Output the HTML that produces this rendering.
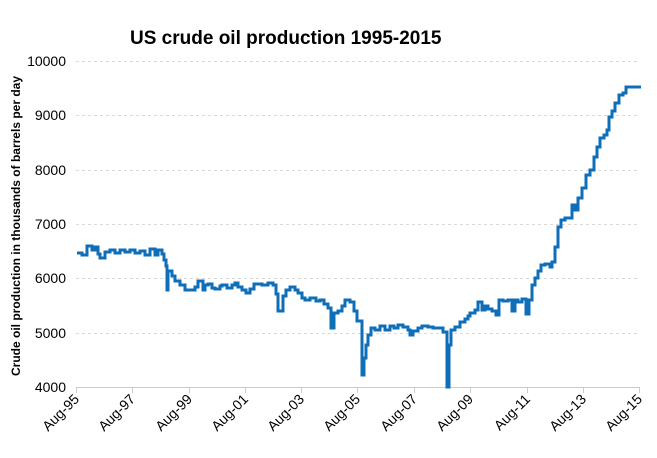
<!DOCTYPE html>
<html><head><style>body{margin:0;background:#fff}</style></head><body>
<svg width="657" height="453" xmlns="http://www.w3.org/2000/svg" font-family="Liberation Sans, sans-serif">
<rect width="657" height="453" fill="#fff"/>
<text x="130" y="44" font-size="19" font-weight="bold">US crude oil production 1995-2015</text>
<g stroke="#d9d9d9" stroke-dasharray="3,3" stroke-width="1">
<line x1="76" x2="640" y1="61.5" y2="61.5"/><line x1="76" x2="640" y1="115.5" y2="115.5"/>
<line x1="76" x2="640" y1="170.5" y2="170.5"/><line x1="76" x2="640" y1="224.5" y2="224.5"/>
<line x1="76" x2="640" y1="278.5" y2="278.5"/><line x1="76" x2="640" y1="333.5" y2="333.5"/>
</g>
<line x1="76" x2="640" y1="387.5" y2="387.5" stroke="#ccc"/>
<g stroke="#ccc"><line x1="76.5" x2="76.5" y1="387" y2="393"/><line x1="132.5" x2="132.5" y1="387" y2="393"/><line x1="189.5" x2="189.5" y1="387" y2="393"/><line x1="245.5" x2="245.5" y1="387" y2="393"/><line x1="301.5" x2="301.5" y1="387" y2="393"/><line x1="357.5" x2="357.5" y1="387" y2="393"/><line x1="414.5" x2="414.5" y1="387" y2="393"/><line x1="470.5" x2="470.5" y1="387" y2="393"/><line x1="527.5" x2="527.5" y1="387" y2="393"/><line x1="583.5" x2="583.5" y1="387" y2="393"/><line x1="639.5" x2="639.5" y1="387" y2="393"/></g>
<g font-size="14" text-anchor="end" fill="#000">
<text x="66" y="66">10000</text><text x="66" y="120">9000</text><text x="66" y="175">8000</text><text x="66" y="229">7000</text><text x="66" y="283">6000</text><text x="66" y="338">5000</text><text x="66" y="392">4000</text>
</g>
<g font-size="14" text-anchor="end">
<text transform="translate(80,400) rotate(-45)">Aug-95</text>
<text transform="translate(136,400) rotate(-45)">Aug-97</text>
<text transform="translate(193,400) rotate(-45)">Aug-99</text>
<text transform="translate(249,400) rotate(-45)">Aug-01</text>
<text transform="translate(305,400) rotate(-45)">Aug-03</text>
<text transform="translate(361,400) rotate(-45)">Aug-05</text>
<text transform="translate(418,400) rotate(-45)">Aug-07</text>
<text transform="translate(474,400) rotate(-45)">Aug-09</text>
<text transform="translate(531,400) rotate(-45)">Aug-11</text>
<text transform="translate(587,400) rotate(-45)">Aug-13</text>
<text transform="translate(643,400) rotate(-45)">Aug-15</text>
</g>
<text transform="translate(20,226) rotate(-90)" font-size="12" font-weight="bold" text-anchor="middle">Crude oil production in thousands of barrels per day</text>
<polyline fill="none" stroke="#0f6eb8" stroke-width="3" stroke-linejoin="miter" points="
77,253 82,253 82,255 87,255 87,246 92,246 92,250 95,250 95,247 98,247 98,254 100,254 100,258 105,258 105,252 110,252 110,250 115,250 115,253 120,253 120,250 125,250 125,252 130,252 130,250 135,250 135,253 140,253 140,251 145,251 145,255 150,255 150,249 155,249 155,255 158,255 158,250 162,250 162,254 164,254 164,260 166,260 166,266 167,266 167,270 167,290 168,290 168,271 172,271 172,276 175,276 175,281 180,281 180,285 185,285 185,290 195,290 195,287 198,287 198,281 203,281 203,290 205,290 205,285 208,285 208,284 212,284 212,288 215,288 215,289 220,289 220,286 222,286 222,285 227,285 227,288 232,288 232,285 235,285 235,283 238,283 238,287 242,287 242,290 246,290 246,293 250,293 250,289 254,289 254,284 262,284 262,285 268,285 268,283 273,283 273,285 276,285 276,294 278,294 278,311 283,311 283,296 286,296 286,290 290,290 290,287 295,287 295,290 298,290 298,293 302,293 302,298 305,298 305,300 310,300 310,298 316,298 316,301 320,301 320,300 324,300 324,304 328,304 328,308 331,308 331,328 334,328 334,313 338,313 338,311 342,311 342,306 345,306 345,300 350,300 350,302 354,302 354,311 357,311 357,321 362,321 362,375 364,375 364,358 366,358 366,345 368,345 368,335 371,335 371,328 375,328 375,330 380,330 380,326 385,326 385,330 390,330 390,326 394,326 394,328 398,328 398,325 403,325 403,327 408,327 408,330 410,330 410,335 413,335 413,331 418,331 418,328 422,328 422,326 428,326 428,327 433,327 433,328 443,328 443,332 447,332 447,387 449,387 449,345 451,345 451,330 455,330 455,327 460,327 460,322 465,322 465,319 468,319 468,316 470,316 470,313 475,313 475,310 478,310 478,302 482,302 482,310 485,310 485,306 488,306 488,309 492,309 492,311 496,311 496,315 499,315 499,300 503,300 503,301 508,301 508,300 512,300 512,311 515,311 515,300 518,300 518,302 522,302 522,299 526,299 526,314 529,314 529,300 532,300 532,285 535,285 535,278 538,278 538,271 541,271 541,265 545,265 545,264 550,264 550,267 552,267 552,262 555,262 555,247 558,247 558,227 561,227 561,220 565,220 565,218 572,218 572,205 575,205 575,210 578,210 578,198 582,198 582,188 586,188 586,175 590,175 590,170 594,170 594,157 597,157 597,147 600,147 600,138 604,138 604,135 607,135 607,130 609,130 609,117 612,117 612,111 615,111 615,103 619,103 619,95 623,95 623,93 626,93 626,87 641,87"/>
</svg>
</body></html>
